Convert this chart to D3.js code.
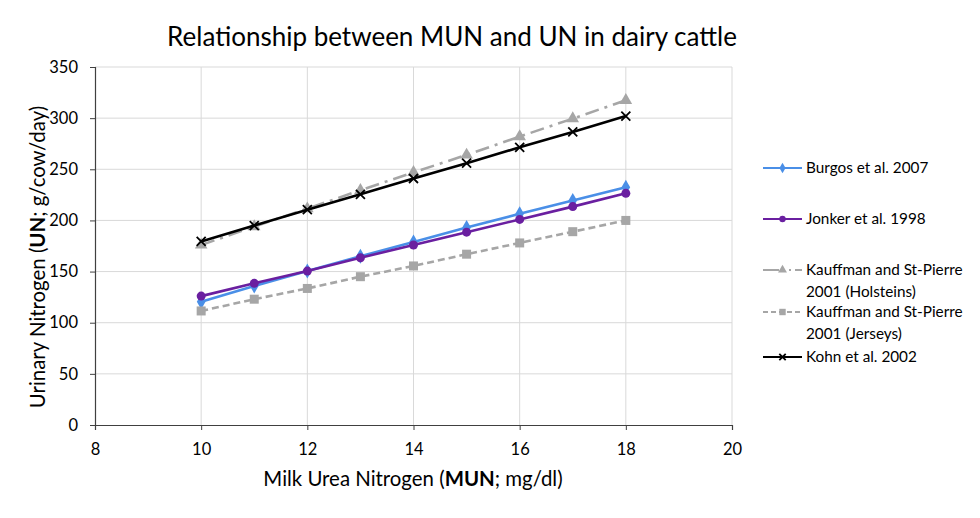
<!DOCTYPE html>
<html>
<head>
<meta charset="utf-8">
<script src="https://d3js.org/d3.v7.min.js"></script>
<style>
body { margin: 0; background: #fff; font-family: Lato, "Open Sans", sans-serif; }
.tick text { font-family: Lato, "Open Sans", sans-serif; }
</style>
</head>
<body>
<script>
// MUN (mg/dl) values where each study was evaluated
var mun = [10, 11, 12, 13, 14, 15, 16, 17, 18];

var burgos = [120.5, 136, 150.5, 165, 179, 193, 206.5, 219.5, 232.5];
var jonker = [126, 138.5, 150.5, 163.5, 176, 188.5, 201, 213.5, 226.5];
var holsteins = [176, 194, 211.5, 229.5, 247, 264, 282, 299.5, 317.5];
var jerseys = [111.5, 123, 133.5, 145, 155.5, 167, 178, 189, 200];
var kohn = [179.5, 195, 210.5, 225.5, 241, 256, 271.5, 286.5, 302];

var xTicks = [8, 10, 12, 14, 16, 18, 20];
var yTicks = [0, 50, 100, 150, 200, 250, 300, 350];

var series = [
  {name: ['Burgos et al. 2007'], values: burgos, color: '#4a8fe7', dash: null, marker: 'diamond'},
  {name: ['Jonker et al. 1998'], values: jonker, color: '#6a1fa0', dash: null, marker: 'circle'},
  {name: ['Kauffman and St-Pierre', '2001 (Holsteins)'], values: holsteins, color: '#a6a6a6', dash: '14,6,3,6', marker: 'triangle'},
  {name: ['Kauffman and St-Pierre', '2001 (Jerseys)'], values: jerseys, color: '#a6a6a6', dash: '7,4', marker: 'square'},
  {name: ['Kohn et al. 2002'], values: kohn, color: '#000000', dash: null, marker: 'cross'}
];
var legendY = [168, 219, 270, 312, 357];

var width = 980, height = 518;
var plot = {left: 95, right: 732, top: 67, bottom: 425};

var svg = d3.select('body').append('svg').attr('width', width).attr('height', height);

var x = d3.scaleLinear().domain([8, 20]).range([plot.left, plot.right]);
var y = d3.scaleLinear().domain([0, 350]).range([plot.bottom, plot.top]);

// gridlines
svg.append('g').selectAll('line.h').data(yTicks.filter(function(d) { return d > 0; })).enter().append('line')
  .attr('x1', plot.left).attr('x2', plot.right)
  .attr('y1', function(d) { return y(d); }).attr('y2', function(d) { return y(d); })
  .attr('stroke', '#d9d9d9').attr('stroke-width', 1);
svg.append('g').selectAll('line.v').data(xTicks.filter(function(d) { return d > 8; })).enter().append('line')
  .attr('y1', plot.top).attr('y2', plot.bottom)
  .attr('x1', function(d) { return x(d); }).attr('x2', function(d) { return x(d); })
  .attr('stroke', '#d9d9d9').attr('stroke-width', 1);

// axes
var xAxis = d3.axisBottom(x).tickValues(xTicks).tickSize(5).tickPadding(12).tickFormat(d3.format('d'));
var yAxis = d3.axisLeft(y).tickValues(yTicks).tickSize(5).tickPadding(12).tickFormat(d3.format('d'));
var gx = svg.append('g').attr('transform', 'translate(0,' + plot.bottom + ')').call(xAxis);
var gy = svg.append('g').attr('transform', 'translate(' + plot.left + ',0)').call(yAxis);
[gx, gy].forEach(function(g) {
  g.select('.domain').attr('stroke', '#404040').attr('stroke-width', 1.2);
  g.selectAll('.tick line').attr('stroke', '#404040');
  g.selectAll('.tick text').attr('fill', '#000').style('font-size', '16.5px');
});
gx.selectAll('.tick text').attr('dy', '0.8em');

// marker drawing
function drawMarker(g, type, color, size) {
  if (type === 'diamond') {
    g.append('path').attr('d', d3.symbol().type(d3.symbolDiamond).size(size * size * 3.2)()).attr('fill', color);
  } else if (type === 'circle') {
    g.append('circle').attr('r', size).attr('fill', color);
  } else if (type === 'triangle') {
    g.append('path').attr('d', d3.symbol().type(d3.symbolTriangle).size(size * size * 3.4)()).attr('fill', color);
  } else if (type === 'square') {
    g.append('rect').attr('x', -size).attr('y', -size).attr('width', size * 2).attr('height', size * 2).attr('fill', color);
  } else if (type === 'cross') {
    g.append('path').attr('d', 'M' + (-size) + ',' + (-size) + 'L' + size + ',' + size + 'M' + (-size) + ',' + size + 'L' + size + ',' + (-size))
      .attr('stroke', color).attr('stroke-width', 1.8).attr('fill', 'none');
  }
}

var line = d3.line()
  .x(function(d) { return x(d[0]); })
  .y(function(d) { return y(d[1]); });

series.forEach(function(s) {
  var pts = mun.map(function(m, i) { return [m, s.values[i]]; });
  svg.append('path').datum(pts)
    .attr('fill', 'none').attr('stroke', s.color).attr('stroke-width', 2.6)
    .attr('stroke-dasharray', s.dash).attr('d', line);
  svg.append('g').selectAll('g').data(pts).enter().append('g')
    .attr('transform', function(d) { return 'translate(' + x(d[0]) + ',' + y(d[1]) + ')'; })
    .each(function() { drawMarker(d3.select(this), s.marker, s.color, 4.5); });
});

// legend
series.forEach(function(s, i) {
  var ly = legendY[i];
  var lg = svg.append('g');
  lg.append('line').attr('x1', 763).attr('x2', 802).attr('y1', ly).attr('y2', ly)
    .attr('stroke', s.color).attr('stroke-width', 2.2)
    .attr('stroke-dasharray', s.dash ? (s.marker === 'triangle' ? '16,4,2,4,2,4' : '5,3') : null);
  var m = lg.append('g').attr('transform', 'translate(782.5,' + ly + ')');
  drawMarker(m, s.marker, s.color, 3.2);
  var t = lg.append('text').attr('x', 806).attr('y', ly + 5).style('font-size', '15.3px').attr('fill', '#000');
  s.name.forEach(function(n, j) {
    t.append('tspan').attr('x', 806).attr('dy', j === 0 ? 0 : 22).text(n);
  });
});

// title
svg.append('text').attr('x', 452).attr('y', 46).attr('text-anchor', 'middle')
  .style('font-size', '26px').attr('fill', '#000').text('Relationship between MUN and UN in dairy cattle');

// x axis title
var xt = svg.append('text').attr('x', 413).attr('y', 486).attr('text-anchor', 'middle')
  .style('font-size', '20.4px').attr('fill', '#000');
xt.append('tspan').text('Milk Urea Nitrogen (');
xt.append('tspan').style('font-weight', 'bold').text('MUN');
xt.append('tspan').text('; mg/dl)');

// y axis title
var yt = svg.append('text').attr('transform', 'translate(45,257) rotate(-90)')
  .attr('text-anchor', 'middle').style('font-size', '20.4px').attr('fill', '#000');
yt.append('tspan').text('Urinary Nitrogen (');
yt.append('tspan').style('font-weight', 'bold').text('UN');
yt.append('tspan').text('; g/cow/day)');
</script>
</body>
</html>
